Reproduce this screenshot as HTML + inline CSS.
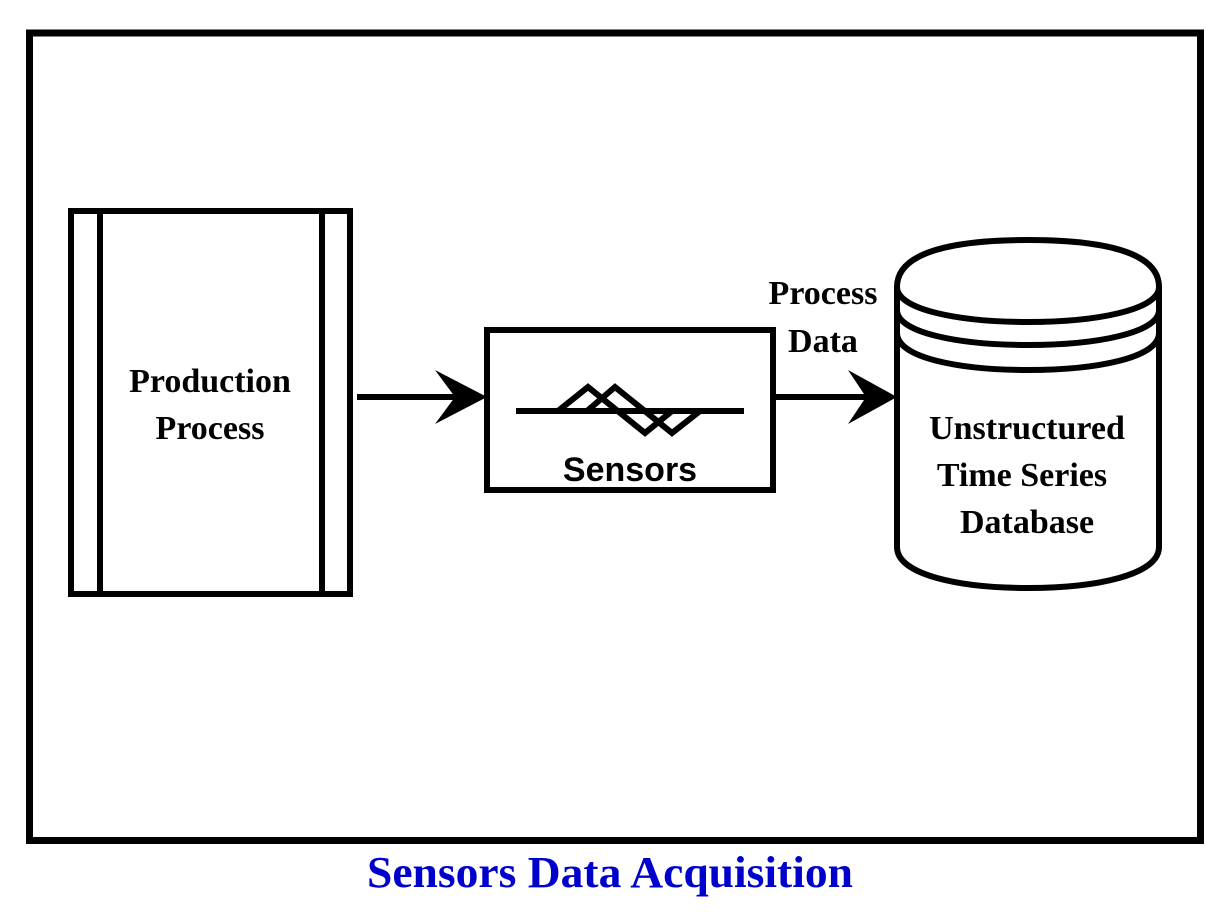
<!DOCTYPE html>
<html><head><meta charset="utf-8"><style>
html,body{margin:0;padding:0;background:#fff;}
svg{display:block;}
</style></head><body>
<svg width="1230" height="922" viewBox="0 0 1230 922" xmlns="http://www.w3.org/2000/svg">
<rect x="0" y="0" width="1230" height="922" fill="#fff"/>
<rect x="29.5" y="33" width="1171" height="807.5" fill="none" stroke="#000" stroke-width="7"/>

<!-- Production process -->
<rect x="71" y="211" width="279" height="383" fill="#fff" stroke="#000" stroke-width="6"/>
<line x1="100" y1="211" x2="100" y2="594" stroke="#000" stroke-width="6"/>
<line x1="322" y1="211" x2="322" y2="594" stroke="#000" stroke-width="6"/>
<g font-family="Liberation Serif, serif" font-weight="bold" font-size="34" text-anchor="middle" fill="#000">
<text x="210" y="392">Production</text>
<text x="210" y="439">Process</text>
</g>

<!-- Arrow 1 -->
<line x1="357" y1="397" x2="455" y2="397" stroke="#000" stroke-width="6"/>
<polygon points="487,397 435,370 455,397 435,424" fill="#000"/>

<!-- Sensors box -->
<rect x="487" y="330" width="286" height="160" fill="#fff" stroke="#000" stroke-width="6"/>
<line x1="516" y1="411" x2="744" y2="411" stroke="#000" stroke-width="6"/>
<polyline points="558,411 588,387 645,433 672,411" fill="none" stroke="#000" stroke-width="6" stroke-linejoin="miter"/>
<polyline points="587,411 615,387 672,433 700,411" fill="none" stroke="#000" stroke-width="6" stroke-linejoin="miter"/>
<text x="630" y="481" font-family="Liberation Sans, sans-serif" font-weight="bold" font-size="34" text-anchor="middle">Sensors</text>

<!-- Arrow 2 -->
<line x1="773" y1="397" x2="868" y2="397" stroke="#000" stroke-width="6"/>
<polygon points="897,397 848,370 866,397 848,424" fill="#000"/>
<g font-family="Liberation Serif, serif" font-weight="bold" font-size="34" text-anchor="middle">
<text x="823" y="304">Process</text>
<text x="823" y="352">Data</text>
</g>

<!-- Database cylinder -->
<path d="M897,287 C897,250 960,240 1028,240 C1096,240 1159,250 1159,287 L1159,547 C1159,575 1096,588 1028,588 C960,588 897,575 897,547 Z" fill="#fff" stroke="#000" stroke-width="6"/>
<path d="M897,287 C897,310 960,322 1028,322 C1096,322 1159,310 1159,287" fill="none" stroke="#000" stroke-width="6"/>
<path d="M897,310 C897,333 960,345 1028,345 C1096,345 1159,333 1159,310" fill="none" stroke="#000" stroke-width="6"/>
<path d="M897,333 C897,358 960,370 1028,370 C1096,370 1159,358 1159,333" fill="none" stroke="#000" stroke-width="6"/>
<g font-family="Liberation Serif, serif" font-weight="bold" font-size="34" text-anchor="middle">
<text x="1027" y="439">Unstructured</text>
<text x="1022" y="486">Time Series</text>
<text x="1027" y="533">Database</text>
</g>

<text x="610" y="887" font-family="Liberation Serif, serif" font-weight="bold" font-size="44" fill="#0000CC" text-anchor="middle" textLength="486" lengthAdjust="spacingAndGlyphs">Sensors Data Acquisition</text>
</svg>
</body></html>
